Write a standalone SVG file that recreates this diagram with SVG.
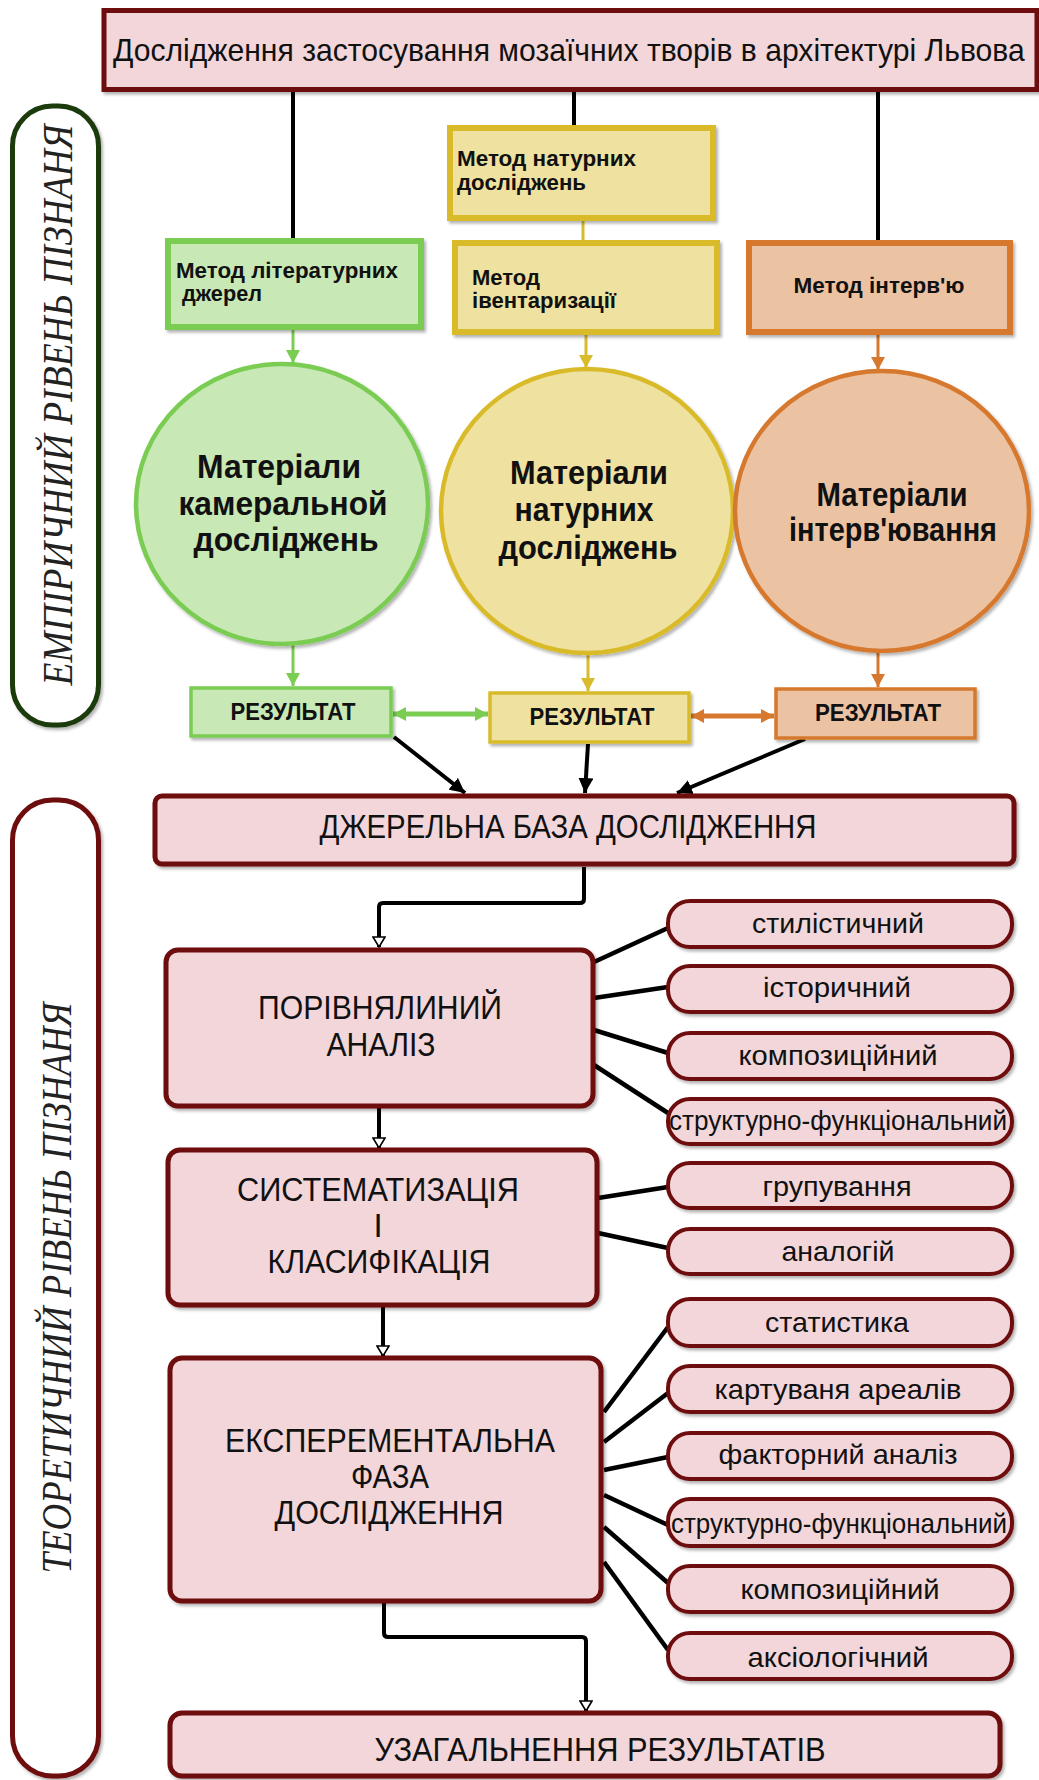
<svg xmlns="http://www.w3.org/2000/svg" width="1039" height="1780" viewBox="0 0 1039 1780">
<defs>
<style>
.t{font-family:"Liberation Sans",Arial,sans-serif;fill:#111}
.b{font-weight:bold}
.c{text-anchor:middle}
.pk{fill:#f2d6d9;stroke:#6d0b0b;stroke-width:5}
.pill{fill:#f2d6d9;stroke:#6d0b0b;stroke-width:4}
.gr{fill:#c8e8b6;stroke:#7acc52}
.ye{fill:#efe1a0;stroke:#d9bb2c}
.or{fill:#ebc3a3;stroke:#d6792e}
.lbl{font-family:"Liberation Serif","Times New Roman",serif;font-style:italic;font-size:43px;fill:#222;text-anchor:middle}
.blk{stroke:#000;stroke-width:4;fill:none}
.pl{stroke:#000;stroke-width:4.5;fill:none}
.mt{font-size:22px}
.ct{font-size:33px}
.pt{font-size:28px}
.bt{font-size:34px}
.bm{font-size:33px}
</style>
<filter id="sh" x="-5%" y="-5%" width="115%" height="125%">
<feDropShadow dx="2" dy="2.5" stdDeviation="1.5" flood-color="#000" flood-opacity="0.3"/>
</filter>
<marker id="ag" viewBox="0 0 10 10" refX="10" refY="5" markerWidth="13" markerHeight="14" markerUnits="userSpaceOnUse" orient="auto-start-reverse" preserveAspectRatio="none"><path d="M0,0 L10,5 L0,10 z" fill="#7acc52"/></marker>
<marker id="ay" viewBox="0 0 10 10" refX="10" refY="5" markerWidth="13" markerHeight="14" markerUnits="userSpaceOnUse" orient="auto-start-reverse" preserveAspectRatio="none"><path d="M0,0 L10,5 L0,10 z" fill="#d9bb2c"/></marker>
<marker id="ao" viewBox="0 0 10 10" refX="10" refY="5" markerWidth="13" markerHeight="14" markerUnits="userSpaceOnUse" orient="auto-start-reverse" preserveAspectRatio="none"><path d="M0,0 L10,5 L0,10 z" fill="#d6792e"/></marker>
<marker id="ab" viewBox="0 0 10 10" refX="10" refY="5" markerWidth="15" markerHeight="15" markerUnits="userSpaceOnUse" orient="auto" preserveAspectRatio="none"><path d="M0,0 L10,5 L0,10 z" fill="#000"/></marker>
<marker id="ho" viewBox="0 0 12 14" refX="11" refY="7" markerWidth="12" markerHeight="14" markerUnits="userSpaceOnUse" orient="auto"><path d="M1,1 L11,7 L1,13 z" fill="#fff" stroke="#000" stroke-width="1.6"/></marker>
</defs>
<rect width="1039" height="1780" fill="#fff"/>

<g id="connectors">
<line class="blk" x1="293" y1="90" x2="293" y2="240"/>
<line class="blk" x1="574" y1="90" x2="574" y2="128"/>
<line class="blk" x1="878" y1="90" x2="878" y2="242"/>
<line x1="583" y1="218" x2="583" y2="242" stroke="#d9bb2c" stroke-width="3"/>
<line x1="293" y1="328" x2="293" y2="363" stroke="#7acc52" stroke-width="3" marker-end="url(#ag)"/>
<line x1="586" y1="334" x2="586" y2="368" stroke="#d9bb2c" stroke-width="3" marker-end="url(#ay)"/>
<line x1="878" y1="334" x2="878" y2="370" stroke="#d6792e" stroke-width="3" marker-end="url(#ao)"/>
<line x1="293" y1="645" x2="293" y2="686" stroke="#7acc52" stroke-width="3" marker-end="url(#ag)"/>
<line x1="588" y1="655" x2="588" y2="691" stroke="#d9bb2c" stroke-width="3" marker-end="url(#ay)"/>
<line x1="878" y1="652" x2="878" y2="687" stroke="#d6792e" stroke-width="3" marker-end="url(#ao)"/>
<line x1="393" y1="714" x2="488" y2="714" stroke="#7acc52" stroke-width="5" marker-start="url(#ag)" marker-end="url(#ag)"/>
<line x1="691" y1="716" x2="774" y2="716" stroke="#d6792e" stroke-width="5" marker-start="url(#ao)" marker-end="url(#ao)"/>
<line class="blk" x1="394" y1="737" x2="465" y2="793" marker-end="url(#ab)"/>
<line class="blk" x1="588" y1="744" x2="585" y2="793" marker-end="url(#ab)"/>
<line class="blk" x1="805" y1="739" x2="677" y2="793" marker-end="url(#ab)"/>
<path class="blk" d="M584,867 V899 Q584,903 580,903 H383 Q379,903 379,907 V947" marker-end="url(#ho)"/>
<line class="blk" x1="379" y1="1108" x2="379" y2="1148" marker-end="url(#ho)"/>
<line class="blk" x1="383" y1="1306" x2="383" y2="1356" marker-end="url(#ho)"/>
<path class="blk" d="M384,1602 V1633 Q384,1637 388,1637 H582 Q586,1637 586,1641 V1711" marker-end="url(#ho)"/>
<line class="pl" x1="594" y1="962" x2="668" y2="928"/>
<line class="pl" x1="594" y1="998" x2="668" y2="987"/>
<line class="pl" x1="594" y1="1030" x2="668" y2="1053"/>
<line class="pl" x1="594" y1="1065" x2="668" y2="1113"/>
<line class="pl" x1="598" y1="1198" x2="668" y2="1187"/>
<line class="pl" x1="598" y1="1233" x2="668" y2="1248"/>
<line class="pl" x1="604" y1="1412" x2="668" y2="1327"/>
<line class="pl" x1="604" y1="1442" x2="668" y2="1393"/>
<line class="pl" x1="604" y1="1470" x2="668" y2="1457"/>
<line class="pl" x1="604" y1="1495" x2="668" y2="1525"/>
<line class="pl" x1="604" y1="1527" x2="668" y2="1583"/>
<line class="pl" x1="604" y1="1562" x2="668" y2="1650"/>
</g>

<g id="title">
<rect class="pk" x="104" y="10.5" width="933" height="79" filter="url(#sh)"/>
<text class="t" transform="translate(113,61) scale(0.88,1)" x="0" y="0" font-size="31" textLength="1036" lengthAdjust="spacingAndGlyphs">Дослідження застосування мозаїчних творів в архітектурі Львова</text>
</g>

<g id="label-empirical">
<rect x="12.5" y="106" width="86" height="619" rx="40" fill="#fff" stroke="#1d3b0f" stroke-width="5" filter="url(#sh)"/>
<text class="lbl" transform="translate(72,405) rotate(-90)" textLength="561" lengthAdjust="spacingAndGlyphs">ЕМПІРИЧНИЙ РІВЕНЬ ПІЗНАНЯ</text>
</g>

<g id="label-theoretical">
<rect x="12.5" y="800" width="86" height="976" rx="40" fill="#fff" stroke="#6d0b0b" stroke-width="5" filter="url(#sh)"/>
<text class="lbl" transform="translate(71,1288) rotate(-90)" textLength="571" lengthAdjust="spacingAndGlyphs">ТЕОРЕТИЧНИЙ РІВЕНЬ ПІЗНАНЯ</text>
</g>

<g id="method-field">
<rect class="ye" x="450" y="128" width="263" height="90" stroke-width="6" filter="url(#sh)"/>
<text class="t b mt" x="457" y="166" textLength="179" lengthAdjust="spacingAndGlyphs">Метод натурних</text>
<text class="t b mt" x="457" y="190" textLength="129" lengthAdjust="spacingAndGlyphs">досліджень</text>
</g>

<g id="method-literature">
<rect class="gr" x="168" y="241" width="253" height="86" stroke-width="6" filter="url(#sh)"/>
<text class="t b mt" x="176" y="278" textLength="222" lengthAdjust="spacingAndGlyphs">Метод літературних</text>
<text class="t b mt" x="182" y="301" textLength="80" lengthAdjust="spacingAndGlyphs">джерел</text>
</g>

<g id="method-inventory">
<rect class="ye" x="455" y="243" width="262" height="89" stroke-width="6" filter="url(#sh)"/>
<text class="t b mt" x="472" y="285" textLength="68" lengthAdjust="spacingAndGlyphs">Метод</text>
<text class="t b mt" x="472" y="308" textLength="144" lengthAdjust="spacingAndGlyphs">івентаризації</text>
</g>

<g id="method-interview">
<rect class="or" x="749" y="243" width="261" height="89" stroke-width="6" filter="url(#sh)"/>
<text class="t b mt c" x="879" y="293" textLength="171" lengthAdjust="spacingAndGlyphs">Метод інтерв'ю</text>
</g>

<g id="materials-cameral">
<ellipse class="gr" cx="282" cy="504" rx="146" ry="140" stroke-width="4.5" filter="url(#sh)"/>
<text class="t b ct c" x="279" y="478" textLength="164" lengthAdjust="spacingAndGlyphs">Матеріали</text>
<text class="t b ct c" x="283" y="515" textLength="209" lengthAdjust="spacingAndGlyphs">камеральной</text>
<text class="t b ct c" x="286" y="551" textLength="185" lengthAdjust="spacingAndGlyphs">досліджень</text>
</g>

<g id="materials-field">
<ellipse class="ye" cx="587" cy="511" rx="146" ry="142" stroke-width="4.5" filter="url(#sh)"/>
<text class="t b ct c" x="589" y="484" textLength="158" lengthAdjust="spacingAndGlyphs">Матеріали</text>
<text class="t b ct c" x="584" y="521" textLength="139" lengthAdjust="spacingAndGlyphs">натурних</text>
<text class="t b ct c" x="588" y="559" textLength="179" lengthAdjust="spacingAndGlyphs">досліджень</text>
</g>

<g id="materials-interview">
<ellipse class="or" cx="882" cy="511" rx="147" ry="140" stroke-width="4.5" filter="url(#sh)"/>
<text class="t b ct c" x="892" y="506" textLength="151" lengthAdjust="spacingAndGlyphs">Матеріали</text>
<text class="t b ct c" x="893" y="541" textLength="208" lengthAdjust="spacingAndGlyphs">інтерв'ювання</text>
</g>

<g id="result-1">
<rect class="gr" x="191" y="688" width="200" height="48" stroke-width="3.5" filter="url(#sh)"/>
<text class="t b c" x="293" y="720" font-size="23" textLength="125" lengthAdjust="spacingAndGlyphs">РЕЗУЛЬТАТ</text>
</g>
<g id="result-2">
<rect class="ye" x="490" y="693" width="199" height="49" stroke-width="3.5" filter="url(#sh)"/>
<text class="t b c" x="592" y="725" font-size="23" textLength="125" lengthAdjust="spacingAndGlyphs">РЕЗУЛЬТАТ</text>
</g>
<g id="result-3">
<rect class="or" x="776" y="689" width="199" height="49" stroke-width="3.5" filter="url(#sh)"/>
<text class="t b c" x="878" y="721" font-size="23" textLength="126" lengthAdjust="spacingAndGlyphs">РЕЗУЛЬТАТ</text>
</g>

<g id="source-base">
<rect class="pk" x="155" y="796" width="859" height="68" rx="7" filter="url(#sh)"/>
<text class="t bt c" x="568" y="838" textLength="497" lengthAdjust="spacingAndGlyphs">ДЖЕРЕЛЬНА БАЗА ДОСЛІДЖЕННЯ</text>
</g>

<g id="comparative">
<rect class="pk" x="166" y="950" width="427" height="156" rx="12" filter="url(#sh)"/>
<text class="t bm c" x="380" y="1019" textLength="244" lengthAdjust="spacingAndGlyphs">ПОРІВНЯЛИНИЙ</text>
<text class="t bm c" x="381" y="1056" textLength="109" lengthAdjust="spacingAndGlyphs">АНАЛІЗ</text>
</g>

<g id="systematization">
<rect class="pk" x="168" y="1150" width="429" height="155" rx="12" filter="url(#sh)"/>
<text class="t bm c" x="378" y="1201" textLength="282" lengthAdjust="spacingAndGlyphs">СИСТЕМАТИЗАЦІЯ</text>
<text class="t bm c" x="378" y="1237">І</text>
<text class="t bm c" x="379" y="1273" textLength="223" lengthAdjust="spacingAndGlyphs">КЛАСИФІКАЦІЯ</text>
</g>

<g id="experimental">
<rect class="pk" x="170" y="1358" width="431" height="243" rx="12" filter="url(#sh)"/>
<text class="t bm c" x="390" y="1452" textLength="330" lengthAdjust="spacingAndGlyphs">ЕКСПЕРЕМЕНТАЛЬНА</text>
<text class="t bm c" x="390" y="1488" textLength="78" lengthAdjust="spacingAndGlyphs">ФАЗА</text>
<text class="t bm c" x="389" y="1524" textLength="229" lengthAdjust="spacingAndGlyphs">ДОСЛІДЖЕННЯ</text>
</g>

<g id="generalization">
<rect class="pk" x="170" y="1713" width="830" height="63" rx="12" filter="url(#sh)"/>
<text class="t bt c" x="600" y="1761" textLength="451" lengthAdjust="spacingAndGlyphs">УЗАГАЛЬНЕННЯ РЕЗУЛЬТАТІВ</text>
</g>

<g id="p-stylistic"><rect class="pill" x="668" y="901" width="344" height="46" rx="22" filter="url(#sh)"/><text class="t pt c" x="838" y="933" textLength="172" lengthAdjust="spacingAndGlyphs">стилістичний</text></g>
<g id="p-historical"><rect class="pill" x="668" y="966" width="344" height="46" rx="22" filter="url(#sh)"/><text class="t pt c" x="837" y="997" textLength="148" lengthAdjust="spacingAndGlyphs">історичний</text></g>
<g id="p-compositional-1"><rect class="pill" x="668" y="1033" width="344" height="46" rx="22" filter="url(#sh)"/><text class="t pt c" x="838" y="1065" textLength="199" lengthAdjust="spacingAndGlyphs">композиційний</text></g>
<g id="p-structural-1"><rect class="pill" x="668" y="1099" width="344" height="45" rx="22" filter="url(#sh)"/><text class="t pt c" x="838" y="1130" textLength="338" lengthAdjust="spacingAndGlyphs">структурно-функціональний</text></g>
<g id="p-grouping"><rect class="pill" x="668" y="1163" width="344" height="45" rx="22" filter="url(#sh)"/><text class="t pt c" x="837" y="1196" textLength="149" lengthAdjust="spacingAndGlyphs">групування</text></g>
<g id="p-analogies"><rect class="pill" x="668" y="1229" width="344" height="45" rx="22" filter="url(#sh)"/><text class="t pt c" x="838" y="1261" textLength="113" lengthAdjust="spacingAndGlyphs">аналогій</text></g>
<g id="p-statistics"><rect class="pill" x="668" y="1299" width="344" height="47" rx="22" filter="url(#sh)"/><text class="t pt c" x="837" y="1332" textLength="144" lengthAdjust="spacingAndGlyphs">статистика</text></g>
<g id="p-mapping"><rect class="pill" x="668" y="1366" width="344" height="46" rx="22" filter="url(#sh)"/><text class="t pt c" x="838" y="1399" textLength="247" lengthAdjust="spacingAndGlyphs">картуваня ареалів</text></g>
<g id="p-factor"><rect class="pill" x="668" y="1433" width="344" height="46" rx="22" filter="url(#sh)"/><text class="t pt c" x="838" y="1464" textLength="239" lengthAdjust="spacingAndGlyphs">факторний аналіз</text></g>
<g id="p-structural-2"><rect class="pill" x="668" y="1499" width="344" height="47" rx="22" filter="url(#sh)"/><text class="t pt c" x="839" y="1533" textLength="336" lengthAdjust="spacingAndGlyphs">структурно-функціональний</text></g>
<g id="p-compositional-2"><rect class="pill" x="668" y="1566" width="344" height="46" rx="22" filter="url(#sh)"/><text class="t pt c" x="840" y="1599" textLength="199" lengthAdjust="spacingAndGlyphs">композиційний</text></g>
<g id="p-axiological"><rect class="pill" x="668" y="1633" width="344" height="46" rx="22" filter="url(#sh)"/><text class="t pt c" x="838" y="1667" textLength="181" lengthAdjust="spacingAndGlyphs">аксіологічний</text></g>
</svg>
